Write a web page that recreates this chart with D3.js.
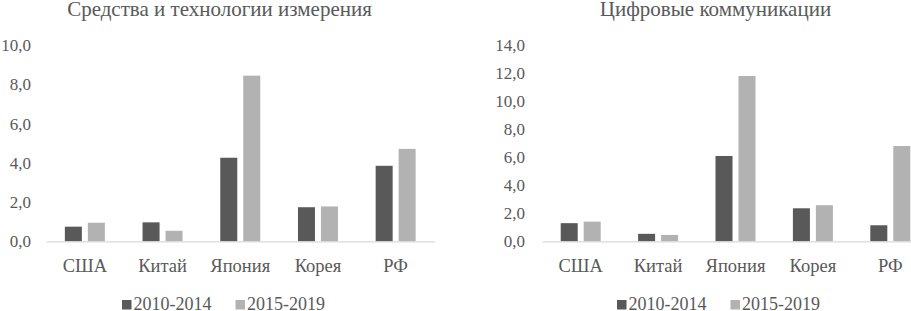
<!DOCTYPE html>
<html>
<head>
<meta charset="utf-8">
<script src="https://cdn.jsdelivr.net/npm/d3@7"></script>
<style>
  body { margin: 0; background: #fff; }
  svg { display: block; }
</style>
</head>
<body>
<div id="chart"></div>
<script>
const countries = ["США", "Китай", "Япония", "Корея", "РФ"];
const periods = ["2010-2014", "2015-2019"];
const colors = ["#595959", "#b2b2b2"];

const measureTitle = "Средства и технологии измерения";
const measureOld = [0.75, 0.97, 4.26, 1.74, 3.85];
const measureNew = [0.95, 0.54, 8.44, 1.78, 4.71];
const measureTicks = [0, 2, 4, 6, 8, 10];

const digitalTitle = "Цифровые коммуникации";
const digitalOld = [1.3, 0.54, 6.09, 2.36, 1.15];
const digitalNew = [1.41, 0.46, 11.79, 2.58, 6.8];
const digitalTicks = [0, 2, 4, 6, 8, 10, 12, 14];

const W = 911, H = 311;
const font = "'Liberation Serif', 'Times New Roman', serif";
const textColor = "#595959";

const svg = d3.select("#chart").append("svg")
    .attr("width", W)
    .attr("height", H);

const fmt = d => d3.format(".1f")(d).replace(".", ",");

function panel(opts) {
    const g = svg.append("g");
    const rows = countries.map((c, i) => ({country: c, values: [opts.old[i], opts.new[i]]}));

    const x = d3.scaleBand()
        .domain(countries)
        .range([opts.left, opts.right]);

    const x1 = d3.scaleBand()
        .domain(periods)
        .range([0, 40])
        .paddingInner(0.26);

    const y = d3.scaleLinear()
        .domain([0, d3.max(opts.ticks)])
        .range([241.4, 45]);

    // Y axis labels only
    const yAxis = g.append("g")
        .attr("transform", `translate(${opts.left},0)`)
        .call(d3.axisLeft(y).tickValues(opts.ticks).tickSize(0).tickPadding(opts.pad).tickFormat(fmt));
    yAxis.select(".domain").remove();
    yAxis.selectAll("text")
        .attr("font-family", font)
        .attr("font-size", "17px")
        .attr("fill", textColor);

    // bars
    const groups = g.selectAll(".grp")
        .data(rows)
        .join("g")
        .attr("transform", d => `translate(${x(d.country) + (x.bandwidth() - 40) / 2},0)`);

    groups.selectAll("rect")
        .data(d => d.values.map((v, i) => ({period: periods[i], value: v, i: i})))
        .join("rect")
        .attr("x", d => x1(d.period))
        .attr("width", x1.bandwidth())
        .attr("y", d => y(d.value))
        .attr("height", d => y(0) - y(d.value))
        .attr("fill", d => colors[d.i]);

    // X axis
    const xAxis = g.append("g")
        .attr("transform", `translate(0,${y(0)})`)
        .call(d3.axisBottom(x).tickSize(0));
    xAxis.select(".domain")
        .attr("stroke", "#d9d9d9")
        .attr("stroke-width", 1.2);
    xAxis.selectAll("text")
        .attr("y", 30.5)
        .attr("dy", null)
        .attr("font-family", font)
        .attr("font-size", "18.5px")
        .attr("fill", textColor);

    // title
    g.append("text")
        .attr("x", opts.x0 + 219.5)
        .attr("y", 15.5)
        .attr("text-anchor", "middle")
        .attr("font-family", font)
        .attr("font-size", "21px")
        .attr("fill", textColor)
        .text(opts.title);

    // legend
    const leg = g.append("g").attr("transform", `translate(${opts.legendX},0)`);
    let lx = 0;
    periods.forEach((p, i) => {
        leg.append("rect")
            .attr("x", lx)
            .attr("y", 300)
            .attr("width", 9.5)
            .attr("height", 9.5)
            .attr("fill", colors[i]);
        const t = leg.append("text")
            .attr("x", lx + 11.5)
            .attr("y", 309.5)
            .attr("font-family", font)
            .attr("font-size", "18px")
            .attr("fill", textColor)
            .text(p);
        lx += 11.5 + t.node().getComputedTextLength() + 24;
    });
}

panel({x0: 0, left: 46, right: 434.5, pad: 15, title: measureTitle,
       old: measureOld, new: measureNew, ticks: measureTicks, legendX: 122});
panel({x0: 496, left: 542, right: 929, pad: 17, title: digitalTitle,
       old: digitalOld, new: digitalNew, ticks: digitalTicks, legendX: 617});
</script>
</body>
</html>
